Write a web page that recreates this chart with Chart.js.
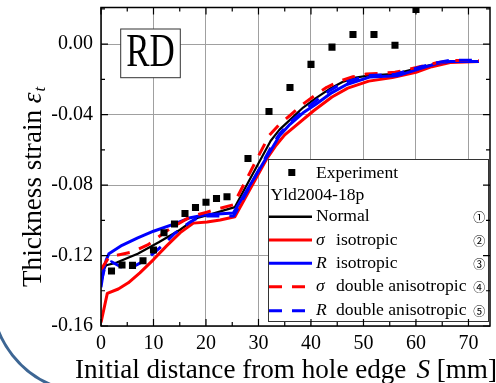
<!DOCTYPE html>
<html><head><meta charset="utf-8">
<script src="https://cdn.jsdelivr.net/npm/chart.js@4/dist/chart.umd.min.js"></script>
<style>html,body{margin:0;padding:0;background:#fff;overflow:hidden}</style>
</head><body>
<canvas id="c" width="496" height="383"></canvas>
<script>
// ---------- data ----------
const xTicks = [0, 10, 20, 30, 40, 50, 60, 70];
const yTicks = [-0.16, -0.12, -0.08, -0.04, 0.00];
const xMinor = [5, 15, 25, 35, 45, 55, 65];
const yMinor = [-0.14, -0.10, -0.06, -0.02, 0.02];

const expX = [2, 4, 6, 8, 10, 12, 14, 16, 18, 20, 22, 24, 28, 32, 36, 40, 44, 48, 52, 56, 60];
const expY = [-0.1288, -0.1254, -0.1256, -0.1230, -0.1169, -0.1071, -0.1021, -0.0961, -0.0927, -0.0898, -0.0876, -0.0866,
              -0.0649, -0.0382, -0.0246, -0.0115, -0.0017, 0.0055, 0.0055, -0.0006, 0.0197];

const normalX = [0, 0.5, 1, 3, 7, 11, 15, 18, 21, 25.5, 32.3, 34, 36, 38.5, 41, 43.5, 46, 48.5, 51, 56, 58.5, 61.5, 64, 67, 72];
const normalY = [-0.133, -0.128, -0.1255, -0.124, -0.119, -0.1125, -0.1055, -0.099, -0.0965, -0.0925, -0.055, -0.0485, -0.043, -0.036, -0.0305, -0.0255, -0.0215, -0.019, -0.0178, -0.0168, -0.015, -0.0128, -0.011, -0.0097, -0.0097];

const sigIsoX = [0, 1.2, 3.3, 5.2, 7.4, 10, 12.5, 15.1, 17.6, 20.2, 22.7, 25.5, 31.5, 33.2, 35, 37, 40.5, 44, 47, 51, 55.5, 60, 63, 66.5, 72];
const sigIsoY = [-0.158, -0.1415, -0.139, -0.1355, -0.1298, -0.1223, -0.1145, -0.107, -0.1016, -0.101, -0.0998, -0.098, -0.0655, -0.058, -0.0515, -0.0465, -0.0378, -0.030, -0.025, -0.021, -0.019, -0.016, -0.0128, -0.0104, -0.0098];

const rIsoX = [0, 0.5, 1, 1.5, 4, 7, 10, 14, 17, 20, 25.2, 32.5, 34, 36, 38.5, 41, 44, 46.8, 51.3, 56.4, 61.4, 64, 66.5, 72];
const rIsoY = [-0.138, -0.128, -0.1225, -0.119, -0.1142, -0.110, -0.1062, -0.102, -0.0985, -0.0968, -0.0958, -0.0595, -0.052, -0.0455, -0.039, -0.034, -0.0275, -0.0229, -0.0186, -0.018, -0.0133, -0.011, -0.0098, -0.0098];

const sigDblX = [0, 1.5, 3.5, 6, 9, 12.5, 17, 20, 22, 25.2, 32, 34, 36, 38.5, 41, 43, 45.5, 48, 50.5, 56, 61.5, 64, 67, 72];
const sigDblY = [-0.128, -0.121, -0.1195, -0.118, -0.1138, -0.106, -0.098, -0.0955, -0.0937, -0.0912, -0.052, -0.0455, -0.0405, -0.034, -0.0285, -0.0245, -0.021, -0.0185, -0.017, -0.016, -0.0123, -0.0105, -0.0093, -0.0093];

const rDblX = [0, 0.8, 2, 4.5, 6.5, 8.5, 12, 14, 17, 18.5, 20, 25.3, 32.5, 34, 36, 38.5, 41, 43.5, 46, 51, 56, 61, 64, 66.5, 72];
const rDblY = [-0.135, -0.126, -0.1235, -0.1275, -0.1258, -0.1225, -0.1135, -0.1075, -0.101, -0.0985, -0.0975, -0.0975, -0.058, -0.051, -0.0445, -0.038, -0.032, -0.0265, -0.022, -0.0178, -0.0172, -0.0128, -0.0105, -0.0092, -0.0092];

const legendRows = ['Normal', 'isotropic', 'isotropic', 'double anisotropic', 'double anisotropic'];
const legendSymbols = ['', 'σ', 'R', 'σ', 'R'];
const legendNums = ['①', '②', '③', '④', '⑤'];

// ---------- helpers ----------
const SERIF = '"Liberation Serif","Times New Roman",serif';
const pts = (xs, ys) => xs.map((v, i) => ({x: v, y: ys[i]}));
const RED = '#ff0000', BLUE = '#0000ff', BLACK = '#000000';
const DASH = [13, 10];

function lineDs(label, xs, ys, color, width, dash) {
  return {
    label, data: pts(xs, ys), borderColor: color, backgroundColor: color,
    borderWidth: width, borderDash: dash || [], pointRadius: 0, fill: false,
    tension: 0, showLine: true, borderJoinStyle: 'round'
  };
}

const decor = {
  id: 'decor',
  afterDatasetsDraw(chart) {
    const {ctx, chartArea: a, scales: {x, y}} = chart;
    ctx.save();
    // ---- legend box ----
    const L = {x: 268.5, y: 159.5, w: 220, h: 162};
    ctx.fillStyle = '#fff';
    ctx.fillRect(L.x, L.y, L.w, L.h);
    ctx.strokeStyle = '#333'; ctx.lineWidth = 1;
    ctx.strokeRect(L.x, L.y, L.w, L.h);
    ctx.fillStyle = '#000';
    ctx.textBaseline = 'middle';
    ctx.textAlign = 'left';
    const lf = '17.6px ' + SERIF;
    ctx.font = lf;
    ctx.fillRect(288.3, 169, 7, 7);
    ctx.fillText('Experiment', 316, 173);
    ctx.fillText('Yld2004-18p', 270.5, 195);
    const rowY = [216.7, 240, 263.3, 286.7, 310.7];
    const cols = [BLACK, RED, BLUE, RED, BLUE];
    const dashes = [[], [], [], DASH, DASH];
    rowY.forEach((yy, i) => {
      ctx.strokeStyle = cols[i];
      ctx.lineWidth = i === 0 ? 2.6 : 3;
      ctx.setLineDash(dashes[i]);
      ctx.beginPath(); ctx.moveTo(269, yy); ctx.lineTo(312, yy); ctx.stroke();
      ctx.setLineDash([]);
      ctx.fillStyle = '#000';
      if (legendSymbols[i]) {
        ctx.font = 'italic ' + lf;
        ctx.fillText(legendSymbols[i], 316, yy);
        ctx.font = lf;
        ctx.fillText(legendRows[i], 336, yy);
      } else {
        ctx.font = lf;
        ctx.fillText(legendRows[i], 316, yy);
      }
      ctx.font = '12px "Noto Sans CJK JP","DejaVu Sans",sans-serif';
      ctx.textAlign = 'center';
      ctx.fillText(legendNums[i], 479.3, yy + 1);
      ctx.textAlign = 'left';
    });

    // ---- frame ----
    ctx.strokeStyle = '#000'; ctx.lineWidth = 1.5;
    ctx.strokeRect(a.left, a.top, a.right - a.left, a.bottom - a.top);
    // ---- inward ticks ----
    ctx.lineWidth = 1.2;
    ctx.beginPath();
    const tx = (v, len) => {
      const p = x.getPixelForValue(v);
      ctx.moveTo(p, a.bottom); ctx.lineTo(p, a.bottom - len);
      ctx.moveTo(p, a.top); ctx.lineTo(p, a.top + len);
    };
    const ty = (v, len) => {
      const p = y.getPixelForValue(v);
      ctx.moveTo(a.left, p); ctx.lineTo(a.left + len, p);
      ctx.moveTo(a.right, p); ctx.lineTo(a.right - len, p);
    };
    xTicks.forEach(v => tx(v, 7));
    xMinor.forEach(v => tx(v, 4));
    yTicks.forEach(v => ty(v, 7));
    yMinor.filter(v => v <= y.max).forEach(v => ty(v, 4));
    ctx.stroke();

    // ---- RD box ----
    ctx.fillStyle = '#fff';
    ctx.fillRect(120.7, 29, 59.6, 48.7);
    ctx.strokeStyle = '#333'; ctx.lineWidth = 1;
    ctx.strokeRect(120.7, 29, 59.6, 48.7);
    ctx.fillStyle = '#000';
    ctx.save();
    ctx.translate(150.5, 65.7);
    ctx.scale(0.76, 1);
    ctx.font = '46px ' + SERIF;
    ctx.textAlign = 'center'; ctx.textBaseline = 'alphabetic';
    ctx.fillText('RD', 0, 0);
    ctx.restore();
    ctx.restore();
  },
  afterDraw(chart) {
    const {ctx} = chart;
    ctx.save();
    ctx.fillStyle = '#000';
    // x title
    const p1 = 'Initial distance from hole edge';
    ctx.font = '25px ' + SERIF;
    const w1 = ctx.measureText(p1).width;
    const fx = 25 * 331.7 / w1;
    ctx.font = fx + 'px ' + SERIF;
    ctx.textAlign = 'left'; ctx.textBaseline = 'alphabetic';
    ctx.fillText(p1, 75, 378);
    ctx.font = 'italic ' + fx + 'px ' + SERIF;
    ctx.fillText('S', 416.5, 378);
    ctx.font = fx + 'px ' + SERIF;
    ctx.fillText('[mm]', 436.7, 378);

    // y title
    ctx.translate(41, 287);
    ctx.rotate(-Math.PI / 2);
    const t1 = 'Thickness strain ';
    ctx.font = fx + 'px ' + SERIF;
    let w = ctx.measureText(t1).width;
    ctx.fillText(t1, 0, 0);
    ctx.font = 'italic ' + fx + 'px ' + SERIF;
    ctx.fillText('ε', w, 0);
    w += ctx.measureText('ε').width + 1;
    ctx.font = 'italic ' + (fx * 0.62) + 'px ' + SERIF;
    ctx.fillText('t', w, 4);
    ctx.restore();

    // decorative arc (bottom-left)
    ctx.save();
    ctx.strokeStyle = '#3d6694';
    ctx.lineWidth = 3;
    ctx.beginPath();
    ctx.arc(88, 296, 96, 1.75, 3.2);
    ctx.stroke();
    ctx.restore();
  }
};

new Chart(document.getElementById('c'), {
  type: 'line',
  data: {
    datasets: [
      {label: 'Experiment', data: pts(expX, expY), showLine: false, pointStyle: 'rect',
       pointRadius: 5, pointBorderWidth: 0, backgroundColor: '#000', borderColor: '#000', clip: 0},
      lineDs('R double anisotropic', rDblX, rDblY, BLUE, 3, DASH),
      lineDs('σ double anisotropic', sigDblX, sigDblY, RED, 3, DASH),
      lineDs('R isotropic', rIsoX, rIsoY, BLUE, 3),
      lineDs('σ isotropic', sigIsoX, sigIsoY, RED, 3),
      lineDs('Normal', normalX, normalY, BLACK, 2.2)
    ]
  },
  options: {
    responsive: false, animation: false, devicePixelRatio: 1,
    layout: {padding: {left: 0, right: 6, top: 7.5, bottom: 0}},
    plugins: {legend: {display: false}, tooltip: {enabled: false}, title: {display: false}},
    scales: {
      x: {
        type: 'linear', min: 0, max: 74.1,
        afterBuildTicks: s => { s.ticks = xTicks.map(v => ({value: v})); },
        afterFit: s => { s.height = 57; s.paddingLeft = 0; s.paddingRight = 0; },
        grid: {color: '#a0a0a0', lineWidth: 1, drawTicks: false},
        border: {display: false},
        ticks: {color: '#000', font: {family: SERIF, size: 20}, padding: 6, maxRotation: 0, autoSkip: false,
                callback: v => String(v)}
      },
      y: {
        type: 'linear', min: -0.16, max: 0.0208,
        afterBuildTicks: s => { s.ticks = yTicks.map(v => ({value: v})); },
        afterFit: s => { s.width = 101; s.paddingTop = 0; s.paddingBottom = 0; },
        grid: {color: '#a0a0a0', lineWidth: 1, drawTicks: false},
        border: {display: false},
        ticks: {color: '#000', font: {family: SERIF, size: 20}, padding: 8,
                callback: v => v.toFixed(2)}
      }
    }
  },
  plugins: [decor]
});
</script>
</body></html>
